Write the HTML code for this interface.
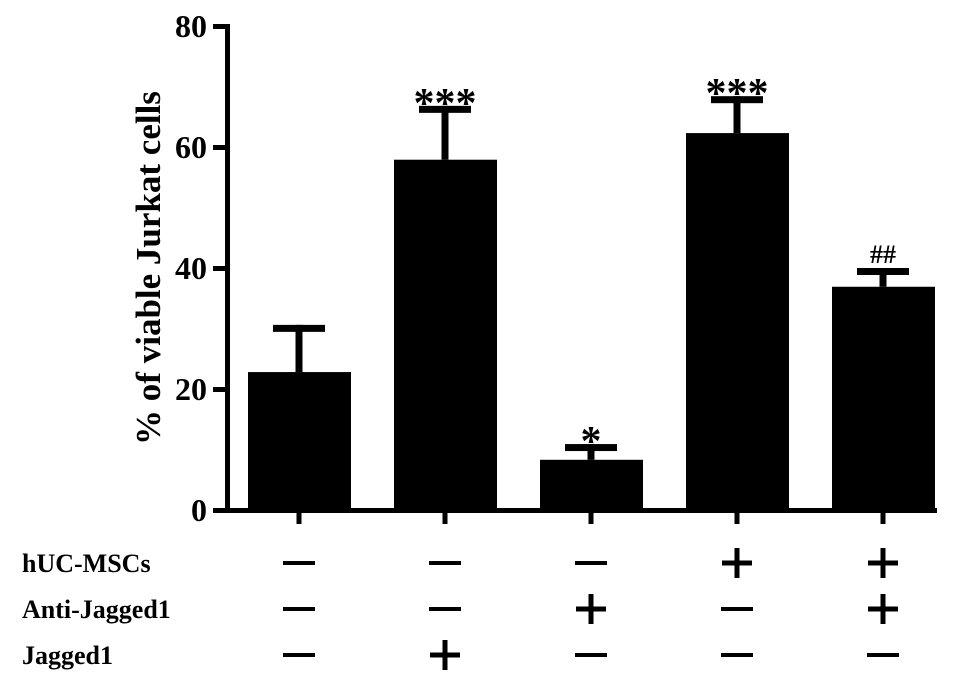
<!DOCTYPE html>
<html><head><meta charset="utf-8"><style>
body{margin:0;background:#fff}
svg{display:block;font-family:"Liberation Serif",serif;font-weight:bold}
</style></head><body>
<svg id="c" width="969" height="685" viewBox="0 0 969 685"></svg>
<script>
const categories=["Control","Jagged1","Anti-Jagged1","hUC-MSCs","hUC-MSCs+Anti-Jagged1"];
const values=[22.8,57.9,8.3,62.3,36.9];
const errors=[7.8,8.9,2.6,6.1,3.1];
const sigLabels=["","***","*","***","##"];
const yTicks=[0,20,40,60,80];
const rowNames=["hUC-MSCs","Anti-Jagged1","Jagged1"];
const rowSigns=[["—","—","—","+","+"],["—","—","+","—","+"],["—","+","—","—","—"]];
const NS="http://www.w3.org/2000/svg";
const svg=document.getElementById('c');
const y=v=>510-v*6.05;
const x=i=>299+i*146;
function el(t,a,txt){const e=document.createElementNS(NS,t);for(const k in a)e.setAttribute(k,a[k]);if(txt!==undefined)e.textContent=txt;svg.appendChild(e);return e;}
let e;
e=el('rect',{x:225,y:y(80)-2,width:5,height:y(0)-y(80)+5,fill:'#000'});


e=el('rect',{x:225,y:y(0)-2,width:712,height:5,fill:'#000'});


yTicks.forEach(t=>{
 e=el('rect',{x:213,y:y(t)-2,width:14,height:5,fill:'#000'});
 
 
 e=el('text',{x:207,y:y(t)+11,'text-anchor':'end','font-size':32},t);
 
 
});
e=el('text',{x:0,y:0,transform:'translate(160,268) rotate(-90)','text-anchor':'middle','font-size':35},'% of viable Jurkat cells');


values.forEach((v,i)=>{
 const cx=x(i),top=y(v+errors[i]);
 e=el('rect',{x:cx-3.5,y:top,width:7,height:y(v)-top,fill:'#000'});
 
 
 e=el('rect',{x:cx-26,y:top,width:52,height:7,fill:'#000'});
 
 
 e=el('rect',{x:cx-51,y:y(v),width:103,height:y(0)-y(v),fill:'#000'});
 
 
 e=el('rect',{x:cx-2.5,y:y(0),width:5,height:14,fill:'#000'});
 
 
 if(sigLabels[i]){
  const isHash=sigLabels[i]=="##";
  e=el('text',{x:cx,y:top+(isHash?-5:11),'text-anchor':'middle','font-size':isHash?26:42},sigLabels[i]);
  
  
 }
});
rowNames.forEach((n,r)=>{
 const ry=563+r*46;
 e=el('text',{x:22,y:ry+9,'font-size':26},n);
 
 
 rowSigns[r].forEach((s,i)=>{
  if(s==="+"){
   e=el('g',{});
   e.appendChild(Object.assign(document.createElementNS(NS,'rect'),{}));
   svg.removeChild(e);
   e=el('path',{d:`M${x(i)-15} ${ry}H${x(i)+15}M${x(i)} ${ry-15}V${ry+15}`,stroke:'#000','stroke-width':5,fill:'none'});
  } else {
   e=el('rect',{x:x(i)-16,y:ry-2,width:32,height:4,fill:'#000'});
  }
  
  
 });
});
</script>
</body></html>
